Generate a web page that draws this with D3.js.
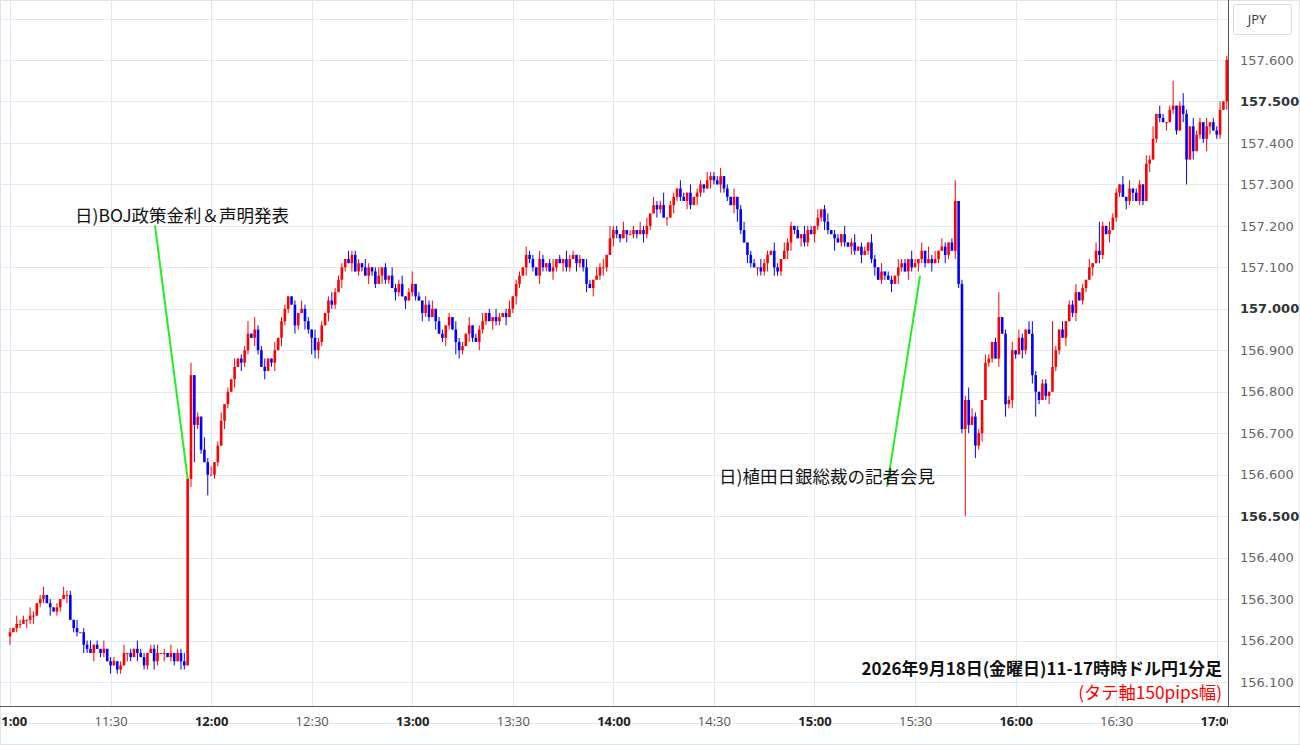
<!DOCTYPE html>
<html><head><meta charset="utf-8">
<script src="https://cdn.jsdelivr.net/npm/d3@7"></script>
<style>
body{margin:0;background:#fff;font-family:"Noto Sans CJK JP","Noto Sans",sans-serif;}
</style></head><body>
<svg id="chart" width="1300" height="745"></svg>
<script>
// ============================================================
// DATA (USD/JPY 1-min closes from 11:00)
// ============================================================
const firstOpen = 156.21;
const closes = [
156.22,156.23,156.24,156.24,156.25,156.25,156.26,156.26,156.29,156.30,
156.31,156.29,156.28,156.27,156.28,156.30,156.31,156.31,156.25,156.23,
156.22,156.22,156.19,156.18,156.17,156.19,156.18,156.17,156.18,156.15,
156.14,156.15,156.13,156.14,156.17,156.17,156.16,156.18,156.17,156.16,
156.14,156.17,156.18,156.15,156.17,156.17,156.17,156.16,156.17,156.15,
156.17,156.15,156.14,156.59,156.84,156.72,156.74,156.66,156.63,156.60,
156.60,156.63,156.67,156.73,156.77,156.80,156.83,156.86,156.88,156.87,
156.90,156.94,156.93,156.95,156.90,156.86,156.85,156.88,156.87,156.90,
156.93,156.97,157.00,157.03,157.01,156.96,156.99,157.00,156.97,156.95,
156.93,156.90,156.92,156.96,156.99,157.02,157.01,157.04,157.07,157.10,
157.12,157.11,157.13,157.09,157.11,157.10,157.08,157.10,157.09,157.06,
157.08,157.10,157.07,157.08,157.05,157.04,157.06,157.03,157.02,157.04,
157.06,157.03,157.02,156.99,157.01,156.98,157.00,156.97,156.94,156.93,
156.96,156.98,156.95,156.92,156.90,156.91,156.94,156.96,156.93,156.92,
156.95,156.97,156.99,156.97,156.98,156.97,156.98,156.99,156.98,157.00,
157.03,157.06,157.08,157.10,157.13,157.12,157.10,157.08,157.12,157.10,
157.11,157.09,157.10,157.12,157.11,157.12,157.10,157.12,157.13,157.11,
157.12,157.10,157.06,157.05,157.07,157.08,157.10,157.10,157.13,157.17,
157.19,157.18,157.17,157.19,157.18,157.18,157.19,157.18,157.19,157.18,
157.20,157.23,157.25,157.24,157.25,157.22,157.22,157.25,157.27,157.29,
157.27,157.26,157.28,157.25,157.27,157.28,157.30,157.29,157.31,157.32,
157.31,157.30,157.32,157.29,157.27,157.25,157.27,157.24,157.19,157.16,
157.13,157.11,157.10,157.10,157.09,157.11,157.13,157.14,157.10,157.09,
157.12,157.14,157.16,157.20,157.19,157.17,157.18,157.16,157.19,157.18,
157.20,157.22,157.24,157.21,157.19,157.18,157.17,157.16,157.18,157.16,
157.15,157.16,157.14,157.15,157.13,157.14,157.16,157.12,157.10,157.07,
157.09,157.08,157.07,157.06,157.08,157.10,157.11,157.09,157.12,157.10,
157.11,157.12,157.14,157.11,157.12,157.11,157.12,157.14,157.15,157.13,
157.16,157.14,157.26,157.06,156.71,156.78,156.72,156.74,156.67,156.70,
156.78,156.87,156.88,156.92,156.88,156.98,156.94,156.77,156.78,156.90,
156.89,156.93,156.90,156.95,156.94,156.84,156.80,156.78,156.82,156.79,
156.80,156.86,156.90,156.95,156.93,156.97,157.01,156.99,157.04,157.02,
157.05,157.07,157.10,157.11,157.14,157.13,157.20,157.18,157.19,157.22,
157.28,157.30,157.27,157.26,157.29,157.28,157.26,157.30,157.26,157.35,
157.36,157.41,157.47,157.46,157.45,157.45,157.48,157.49,157.43,157.49,
157.47,157.36,157.44,157.38,157.42,157.45,157.41,157.44,157.45,157.43,
157.42,157.48,157.50,157.60,157.57
];
// upper / lower wick length in pips per candle
const wickUp =   "1021102101201010211020112010201101201021101120102011201010312012010201120311200201100102110211012011020110210120102112013010212011010211020112010210120110211021012010211010210212031102011021202113011021020110201120102012011021102102110102110201201102012011021020110211021020312021012011021102101201120210231011021020112010202010211020201";
const wickDn =   "2011021201102011020110210201102011021020110210201102102011020110210202110210201202110210210221021102102011021102110210201102110201210221021021102110201210211021102102110211102012102110201102110210202110210211021021102310210201202110221021102112103011021020112011020210210211020102102110201120110201121021021101201102012011020210";
// bigger wicks read directly
const wickHigh = [[54,156.87],[63,156.75],[71,156.97],[97,157.05],[102,157.14],[192,157.27],[209,157.33],[282,157.31],[286,156.81],[295,157.04],[311,156.97],[325,157.21],[347,157.55],[350,157.52],[341,157.44]];
const wickLow  = [[55,156.63],[59,156.55],[76,156.84],[90,156.89],[133,156.89],[172,157.04],[224,157.08],[285,156.50],[288,156.64],[297,156.74],[306,156.74],[351,157.30],[357,157.38]];
const priceTicks = [156.1,156.2,156.3,156.4,156.5,156.6,156.7,156.8,156.9,157.0,157.1,157.2,157.3,157.4,157.5,157.6];
const timeTicks = ["11:00","11:30","12:00","12:30","13:00","13:30","14:00","14:30","15:00","15:30","16:00","16:30","17:00"];
const notes = [
  {text:"日)BOJ政策金利＆声明発表", p:157.21, tx:75, lx:155, anchor:"start", toMin:53, toP:156.59},
  {text:"日)植田日銀総裁の記者会見", p:156.58, tx:935, lx:887, anchor:"end", toMin:271.5, toP:157.08}
];

// ============================================================
// SCALES
// ============================================================
const svg = d3.select('#chart');
const plotR = 1228, plotB = 706;
const x = d3.scaleLinear().domain([0, 360]).range([10, 10 + 360 * 3.352]);
const y = d3.scaleLinear().domain([156.1, 157.6]).range([682, 60]);
const parseT = s => { const [h, m] = s.split(':').map(Number); return (h - 11) * 60 + m; };

const candles = closes.map((c, i) => {
  const o = i === 0 ? firstOpen : closes[i - 1];
  let h = Math.max(o, c) + (+wickUp[i % wickUp.length]) * 0.01;
  let l = Math.min(o, c) - (+wickDn[i % wickDn.length]) * 0.01;
  return {i, o, c, h, l};
});
wickHigh.forEach(([i, v]) => candles[i].h = Math.max(candles[i].h, v));
wickLow.forEach(([i, v]) => candles[i].l = Math.min(candles[i].l, v));

svg.append('rect').attr('x', 0.5).attr('y', 0.5).attr('width', 1299).attr('height', 744)
  .attr('fill', '#fff').attr('stroke', '#e0e3eb');

svg.append('clipPath').attr('id', 'pc').append('rect')
  .attr('x', 0).attr('y', 0).attr('width', plotR).attr('height', plotB);
svg.append('clipPath').attr('id', 'xc').append('rect')
  .attr('x', 0).attr('y', plotB).attr('width', plotR).attr('height', 40);

// grid
const grid = svg.append('g').attr('stroke', '#e1e9f2').attr('stroke-width', 1);
priceTicks.concat([156.0, 157.7]).forEach(p => grid.append('line')
  .attr('x1', 0).attr('x2', plotR).attr('y1', Math.round(y(p)) + .5).attr('y2', Math.round(y(p)) + .5));
timeTicks.forEach(t => grid.append('line')
  .attr('x1', Math.round(x(parseT(t))) + .5).attr('x2', Math.round(x(parseT(t))) + .5).attr('y1', 0).attr('y2', plotB));

// ============================================================
// CANDLES
// ============================================================
const cg = svg.append('g').attr('clip-path', 'url(#pc)');
candles.forEach(d => {
  const col = d.c >= d.o ? '#ff0000' : '#0000ff';
  const cx = x(d.i);
  cg.append('line').attr('x1', cx).attr('x2', cx).attr('y1', y(d.h)).attr('y2', y(d.l))
    .attr('stroke', col).attr('stroke-width', 1);
  const top = y(Math.max(d.o, d.c)), bot = y(Math.min(d.o, d.c));
  cg.append('rect').attr('x', cx - 1.3).attr('width', 2.6)
    .attr('y', top).attr('height', Math.max(1, bot - top)).attr('fill', col);
});

// ============================================================
// ANNOTATIONS
// ============================================================
notes.forEach(n => {
  svg.append('line').attr('x1', n.lx).attr('y1', y(n.p) + 4)
    .attr('x2', x(n.toMin)).attr('y2', y(n.toP))
    .attr('stroke', '#22ee22').attr('stroke-width', 2);
  svg.append('text').attr('x', n.tx).attr('y', y(n.p)).attr('text-anchor', n.anchor)
    .attr('font-size', 17.5).attr('fill', '#111').text(n.text);
});
svg.append('text').attr('x', 1222).attr('y', 675).attr('text-anchor', 'end')
  .attr('font-size', 17).attr('font-weight', 'bold').attr('fill', '#111')
  .text('2026年9月18日(金曜日)11-17時時ドル円1分足');
svg.append('text').attr('x', 1222).attr('y', 699).attr('text-anchor', 'end')
  .attr('font-size', 17.3).attr('fill', '#ff0000').text('(タテ軸150pips幅)');

// ============================================================
// AXES
// ============================================================
svg.append('line').attr('x1', plotR + .5).attr('x2', plotR + .5).attr('y1', 0).attr('y2', plotB)
  .attr('stroke', '#555');
svg.append('line').attr('x1', 0).attr('x2', 1300).attr('y1', plotB + .5).attr('y2', plotB + .5)
  .attr('stroke', '#555');
const ya = svg.append('g').attr('transform', `translate(${plotR},0)`)
  .call(d3.axisRight(y).tickValues(priceTicks).tickSize(0).tickPadding(12)
    .tickFormat(d3.format('.3f')));
ya.select('.domain').remove();
ya.selectAll('text').attr('font-family', '"DejaVu Sans",sans-serif').attr('font-size', 13)
  .attr('fill', d => Math.round(d * 10) % 5 === 0 ? '#333' : '#666')
  .attr('font-weight', d => Math.round(d * 10) % 5 === 0 ? 'bold' : 'normal');

const xa = svg.append('g').attr('clip-path', 'url(#xc)').append('g')
  .attr('transform', `translate(0,${plotB})`)
  .call(d3.axisBottom(x).tickValues(timeTicks.map(parseT)).tickSize(0).tickPadding(11)
    .tickFormat((d, i) => timeTicks[i]));
xa.select('.domain').remove();
xa.selectAll('text').attr('font-family', '"Open Sans",sans-serif').attr('font-size', 13)
  .attr('fill', d => d % 60 === 0 ? '#222' : '#555')
  .attr('font-weight', d => d % 60 === 0 ? 'bold' : 'normal');

// JPY box
svg.append('rect').attr('x', 1233.5).attr('y', 4.5).attr('width', 58).attr('height', 30)
  .attr('fill', '#fff').attr('stroke', '#d6dbe3').attr('rx', 2);
svg.append('text').attr('x', 1257).attr('y', 24).attr('text-anchor', 'middle')
  .attr('font-family', '"Open Sans",sans-serif').attr('font-size', 13).attr('fill', '#333').text('JPY');
</script></body></html>
